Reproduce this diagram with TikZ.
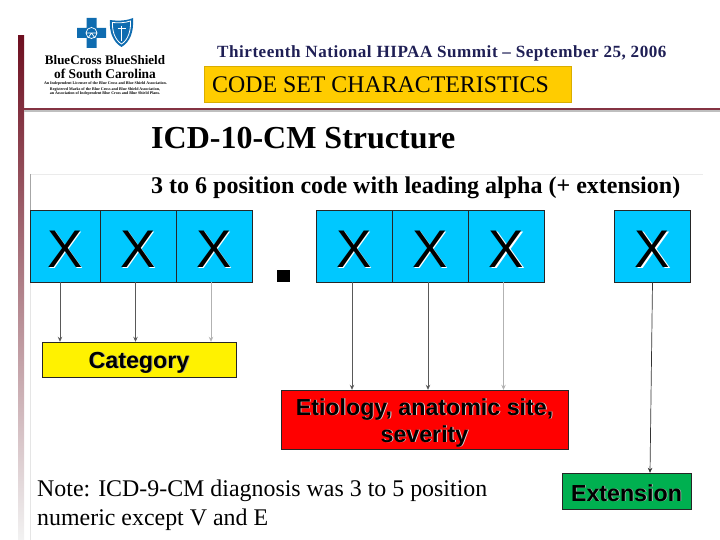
\documentclass[tikz,border=0pt]{standalone}
\usepackage{fontspec}
\setmainfont{Liberation Serif}
\setsansfont{Liberation Sans}
\usepackage{xcolor}
\usetikzlibrary{calc,arrows.meta}
\definecolor{xblue}{HTML}{00C8FF}
\definecolor{logoblue}{HTML}{0F6CB0}
\definecolor{bargold}{HTML}{FFCC00}
\definecolor{navyink}{HTML}{1F1F55}
\definecolor{darkbar}{HTML}{6E0F20}
\definecolor{extgreen}{HTML}{00B050}
\newcommand{\shadowed}[4][0.9pt]{\leavevmode\raisebox{-#3}[0pt][0pt]{\rlap{\raisebox{-#1}{\kern#1\textcolor{#2}{#4}}}#4}}
\tikzset{
  xbox/.style={draw=black!85,fill=xblue,minimum width=76pt,minimum height=72pt,inner sep=0pt,font=\fontsize{53}{53}\sffamily},
  labelbox/.style={draw=black!85,inner sep=0pt,align=center,font=\fontsize{23.2}{27}\sffamily\bfseries},
  heading/.style={anchor=west,inner sep=0pt,font=\fontsize{#1}{#1}\bfseries},
  link/.style={-{Stealth[length=5pt,width=4.5pt]},black!65,line width=0.7pt},
  logotext/.style={inner sep=0pt,font=\fontsize{#1}{#1}\bfseries}
}
\begin{document}
\begin{tikzpicture}[>=stealth,x=1pt,y=-1pt]
  \useasboundingbox (0,0) rectangle (720,540);
  % slide frame
  \shade[top color=darkbar,bottom color=black!5] (18,36) rectangle (24,540);
  \fill[black!25] (24,110) rectangle (720,112);
  \fill[darkbar!85] (24,108.5) rectangle (720,110);
  \draw[black!8] (30,174.5) -- (703,174.5);
  \draw[black!35] (30.5,174) -- (30.5,210);
  \draw[black!10] (30.5,282) -- (30.5,540);
  % logo
  \fill[logoblue] (86.5,18) -- (96.5,18) -- (96.5,28) -- (106,28) -- (106,38) -- (96.5,38) -- (96.5,48)
    -- (86.5,48) -- (86.5,38) -- (77,38) -- (77,28) -- (86.5,28) -- cycle;
  \draw[white,line width=0.7pt] (91.5,33) circle (5.5pt) (86,33) -- (97,33) (91.5,33) -- (88,38) (91.5,33) -- (95,38);
  \fill[logoblue] (110,20) .. controls (117,21) and (126,21) .. (133,18) .. controls (134,32) and (130,42) .. (121.5,47)
    .. controls (113,42) and (109,32) .. (110,20) -- cycle;
  \draw[white,line width=0.8pt] (112.5,22.5) .. controls (118,23) and (125,23) .. (130.5,21) .. controls (131,31) and (128,40) .. (121.5,44)
    .. controls (115,40) and (112,31) .. (112.5,22.5) -- cycle;
  \draw[white,line width=1pt] (121.5,26) -- (121.5,41) (117.5,29) -- (125.5,29);
  \node[logotext=13] (logoa) at (105,60) {BlueCross BlueShield};
  \node[logotext=13.4] (logob) at (105,74) {of South Carolina};
  \node[logotext=4] (logoc) at (105.5,84) {An Independent Licensee of the Blue Cross and Blue Shield Association.};
  \node[logotext=4] (logod) at (105,89.5) {Registered Marks of the Blue Cross and Blue Shield Association,};
  \node[logotext=4] (logoe) at (105,94) {an Association of Independent Blue Cross and Blue Shield Plans.};
  % header
  \node[heading=17.1,text=navyink,anchor=west] (summit) at (217,53) {\addfontfeature{LetterSpace=3}Thirteenth National HIPAA Summit -- September 25, 2006};
  \node[draw=bargold!85!black,fill=bargold,minimum width=367pt,minimum height=36pt,inner sep=0pt] (codebar) at (387.5,84) {};
  \node[anchor=west,inner sep=0pt,font=\fontsize{23.85}{23.85}\selectfont,text=black!90!navyink] (codeset) at (212,85) {CODE SET CHARACTERISTICS};
  \node[heading=32] (title) at (151,138.5) {ICD-10-CM Structure};
  \node[heading=24] (subtitle) at (151,188) {3 to 6 position code with leading alpha (+ extension)};
  % code positions
  \node[xbox,minimum width=70pt] (xa) at (65,246) {\shadowed[1.5pt]{white}{21pt}{X}};
  \foreach \name/\cx in {xb/138,xc/214,xd/354,xe/430,xf/506.5,xg/652.5}
    \node[xbox] (\name) at (\cx,246) {\shadowed[1.5pt]{white}{21pt}{X}};
  \node[fill=black,minimum width=12.5pt,minimum height=12pt,inner sep=0pt] (sep) at (283.5,276) {};
  % groups
  \node[labelbox,fill=yellow,minimum width=193.5pt,minimum height=35pt] (cat) at (139,359.5) {\shadowed{black!40}{8.5pt}{Category}};
  \node[labelbox,fill=red,minimum width=286.5pt,minimum height=59pt] (etio) at (424.5,419.5)
    {\shadowed{white!85!black}{9pt}{Etiology, anatomic site,}\\ \shadowed{white!85!black}{9pt}{severity}};
  \node[labelbox,fill=extgreen,minimum width=128.5pt,minimum height=36pt] (ext) at (626.5,491) {\shadowed{white!70!black}{10pt}{Extension}};
  % connectors
  \draw[link] ([xshift=-5pt]xa.south) -- ([xshift=-5pt]xa.south |- cat.north);
  \draw[link] ([xshift=-2.5pt]xb.south) -- ([xshift=-2.5pt]xb.south |- cat.north);
  \draw[link,black!30] ([xshift=-3pt]xc.south) -- ([xshift=-3pt]xc.south |- cat.north);
  \draw[link] ([xshift=-2pt]xd.south) -- ([xshift=-2pt]xd.south |- etio.north);
  \draw[link] ([xshift=-2pt]xe.south) -- ([xshift=-2pt]xe.south |- etio.north);
  \draw[link,black!30] ([xshift=-3pt]xf.south) -- ([xshift=-3pt]xf.south |- etio.north);
  \draw[link,black!80] (xg.south) -- ([xshift=-2.5pt]xg.south |- ext.north);
  % note
  \node[anchor=north west,inner sep=0pt,align=left,font=\fontsize{23.9}{29}\selectfont] (note) at (37,480)
    {Note: ICD-9-CM diagnosis was 3 to 5 position\\ numeric except V and E};
\end{tikzpicture}
\end{document}
